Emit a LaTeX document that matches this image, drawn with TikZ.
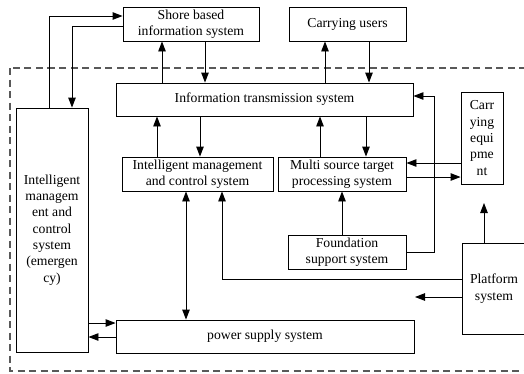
\documentclass[tikz,border=0pt]{standalone}
\usepackage{fontspec}
\setmainfont{Liberation Serif}
\usetikzlibrary{arrows.meta}
\begin{document}
\begin{tikzpicture}[x=1pt,y=-1pt,
  box/.style={draw,line width=0.9pt,align=center,inner sep=1pt,
    font=\fontsize{13.7}{16.3}\selectfont},
  arr/.style={line width=0.9pt,-{Triangle[length=10pt,width=7.5pt]}},
  dbl/.style={line width=0.9pt,{Triangle[length=10pt,width=7.5pt]}-{Triangle[length=10pt,width=7.5pt]}},
  frame/.style={draw=black!65,line width=1.1pt,dash pattern=on 7pt off 4.5pt}]
\useasboundingbox (0,0) rectangle (524,373);

% outer dashed boundary
\draw[frame] (10,68) rectangle (540,371);

% blocks
\node[box,minimum width=136pt,minimum height=34pt] (shore) at (191,24) {Shore based\\information system};
\node[box,minimum width=117pt,minimum height=34pt] (users) at (347.5,24) {Carrying users};
\node[box,minimum width=297pt,minimum height=33pt] (info) at (264.5,99.5) {Information transmission system};
\node[box,minimum width=151pt,minimum height=34pt] (imc) at (197.5,174) {Intelligent management\\and control system};
\node[box,minimum width=128pt,minimum height=34pt] (multi) at (342,174) {Multi source target\\processing system};
\node[box,minimum width=42pt,minimum height=92pt] (equip) at (482,138) {Carr\\ying\\equi\\pme\\nt};
\node[box,minimum width=118pt,minimum height=34pt] (found) at (347,252) {Foundation\\support system};
\node[box,minimum width=64pt,minimum height=91pt] (platform) at (494,288.5) {Platform\\system};
\node[box,minimum width=298pt,minimum height=33pt] (power) at (265,336.5) {power supply system};
\node[box,minimum width=72pt,minimum height=244pt] (emerg) at (52,230) {Intelligent\\managem\\ent and\\control\\system\\(emergen\\cy)};

% free arrow ends
\coordinate (eqin) at (484,203);
\coordinate (plout) at (415,297);

% connectors
\draw[arr] (emerg.north -| 49,0) |- (shore.west |- 0,16);
\draw[arr] (shore.west |- 0,26) -| (emerg.north -| 72,0);
\draw[arr] (info.north -| 162,0) -- (shore.south -| 162,0);
\draw[arr] (shore.south -| 205,0) -- (info.north -| 205,0);
\draw[arr] (info.north -| 325,0) -- (users.south -| 325,0);
\draw[arr] (users.south -| 369,0) -- (info.north -| 369,0);
\draw[arr] (imc.north -| 157,0) -- (info.south -| 157,0);
\draw[arr] (info.south -| 200,0) -- (imc.north -| 200,0);
\draw[arr] (multi.north -| 320,0) -- (info.south -| 320,0);
\draw[arr] (info.south -| 366,0) -- (multi.north -| 366,0);
\draw[arr] (found.east) -| (434,96) -- (info.east |- 0,96);
\draw[arr] (equip.west |- 0,163) -- (multi.east |- 0,163);
\draw[arr] (multi.east |- 0,177) -- (equip.west |- 0,177);
\draw[arr] (found.north -| 342,0) -- (multi.south -| 342,0);
\draw[arr] (platform.north -| eqin) -- (eqin);
\draw[arr] (platform.west |- 0,279) -| (imc.south -| 222,0);
\draw[arr] (platform.west |- plout) -- (plout);
\draw[dbl] (imc.south -| 186,0) -- (power.north -| 186,0);
\draw[arr] (emerg.east |- 0,323) -- (power.west |- 0,323);
\draw[arr] (power.west |- 0,337) -- (emerg.east |- 0,337);
\end{tikzpicture}
\end{document}
